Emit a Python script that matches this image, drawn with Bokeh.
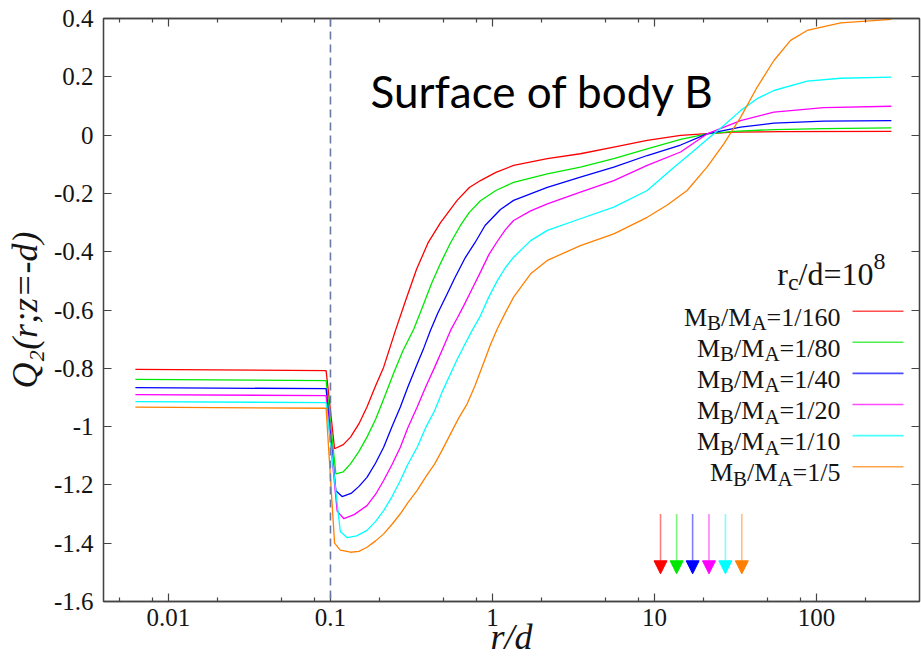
import math
from bokeh.plotting import figure
from bokeh.models import (Range1d, LogAxis, LinearAxis, FixedTicker, Span, Label,
                          Arrow, NormalHead, ColumnDataSource, CustomJSTickFormatter)
from bokeh.core.properties import value
from bokeh.embed import file_html
from bokeh.resources import INLINE

# ---------------- data ----------------
ratios = ["1/160", "1/80", "1/40", "1/20", "1/10", "1/5"]

x_160 = [0.00625, 0.094, 0.106, 0.12, 0.133, 0.15, 0.168, 0.19, 0.213, 0.252, 0.29, 0.34, 0.40, 0.478,
         0.605, 0.72, 0.843, 1.05, 1.35, 2.18, 3.49, 5.61, 9.02, 14.5, 21.1, 30.9, 60, 290]
y_160 = [-0.804, -0.808, -1.076, -1.062, -1.036, -0.99, -0.933, -0.86, -0.796, -0.670, -0.57, -0.46, -0.37, -0.30,
         -0.224, -0.18, -0.156, -0.128, -0.104, -0.081, -0.064, -0.041, -0.018, -0.001, 0.005, 0.010, 0.012, 0.0125]

x_80 = [0.00625, 0.094, 0.108, 0.12, 0.133, 0.15, 0.168, 0.19, 0.213, 0.246, 0.28, 0.327, 0.37, 0.42, 0.478,
        0.55, 0.634, 0.72, 0.843, 1.05, 1.35, 2.18, 3.49, 5.61, 9.02, 14.5, 21.1, 30.9, 54.6, 111, 290]
y_80 = [-0.838, -0.842, -1.162, -1.155, -1.128, -1.085, -1.036, -0.975, -0.905, -0.815, -0.74, -0.665, -0.59, -0.51, -0.44,
        -0.37, -0.31, -0.265, -0.225, -0.19, -0.162, -0.133, -0.110, -0.081, -0.047, -0.015, 0.004, 0.013, 0.019, 0.022, 0.025]

x_40 = [0.00625, 0.094, 0.108, 0.118, 0.135, 0.15, 0.168, 0.19, 0.213, 0.24, 0.27, 0.30, 0.343, 0.377, 0.414, 0.46,
        0.525, 0.585, 0.68, 0.778, 0.9, 1.12, 1.35, 2.18, 3.49, 5.61, 9.02, 14.5, 21.1, 34, 54.6, 111, 290]
y_40 = [-0.866, -0.870, -1.22, -1.240, -1.228, -1.205, -1.174, -1.125, -1.071, -1.0, -0.933, -0.865, -0.785, -0.73, -0.670, -0.61,
        -0.545, -0.49, -0.42, -0.37, -0.31, -0.255, -0.224, -0.179, -0.144, -0.110, -0.070, -0.034, 0.004, 0.027, 0.041, 0.048, 0.050]

x_20 = [0.00625, 0.094, 0.11, 0.121, 0.14, 0.168, 0.19, 0.213, 0.24, 0.27, 0.30, 0.343, 0.39, 0.44, 0.50, 0.551,
        0.61, 0.665, 0.73, 0.843, 0.95, 1.07, 1.2, 1.35, 1.72, 2.18, 3.49, 5.61, 9.02, 14.5, 21.1, 34, 54.6, 111, 290]
y_20 = [-0.890, -0.894, -1.29, -1.316, -1.302, -1.271, -1.232, -1.185, -1.13, -1.071, -1.005, -0.933, -0.86, -0.796, -0.725, -0.670,
        -0.625, -0.585, -0.54, -0.47, -0.41, -0.365, -0.325, -0.293, -0.26, -0.236, -0.196, -0.156, -0.104, -0.058, 0.004, 0.050, 0.079, 0.094, 0.099]

x_10 = [0.00625, 0.094, 0.115, 0.127, 0.145, 0.168, 0.19, 0.213, 0.24, 0.27, 0.30, 0.343, 0.39, 0.44, 0.49, 0.551,
        0.605, 0.665, 0.749, 0.843, 0.95, 1.07, 1.2, 1.35, 1.72, 2.18, 3.49, 5.61, 9.02, 13.2, 17, 21.1, 27, 34, 43,
        54.6, 87.6, 141, 290]
y_10 = [-0.914, -0.918, -1.36, -1.381, -1.375, -1.356, -1.325, -1.288, -1.24, -1.185, -1.13, -1.071, -1.0, -0.945, -0.88, -0.819,
        -0.77, -0.725, -0.670, -0.62, -0.555, -0.50, -0.455, -0.419, -0.362, -0.327, -0.287, -0.247, -0.19, -0.11, -0.06, -0.015, 0.035, 0.084, 0.125,
        0.153, 0.185, 0.195, 0.199]

x_5 = [0.00625, 0.094, 0.106, 0.115, 0.133, 0.15, 0.168, 0.19, 0.213, 0.24, 0.27, 0.30, 0.343, 0.39, 0.44, 0.49,
       0.551, 0.62, 0.698, 0.78, 0.884, 0.97, 1.07, 1.2, 1.35, 1.72, 2.18, 3.49, 5.61, 9.02, 12, 15.9, 21.1, 26.8,
       34, 43, 54.6, 69.2, 87.6, 141, 290]
y_5 = [-0.933, -0.937, -1.40, -1.424, -1.431, -1.428, -1.414, -1.392, -1.368, -1.335, -1.299, -1.262, -1.219, -1.17, -1.128, -1.08,
       -1.025, -0.97, -0.922, -0.86, -0.78, -0.72, -0.665, -0.61, -0.556, -0.476, -0.430, -0.379, -0.339, -0.282, -0.24, -0.190, -0.110, -0.030,
       0.061, 0.164, 0.256, 0.325, 0.359, 0.385, 0.397]

series_x = [x_160, x_80, x_40, x_20, x_10, x_5]
series_y = [y_160, y_80, y_40, y_20, y_10, y_5]

arrow_x = [10.9, 13.7, 17.2, 21.7, 27.4, 34.6]
arrow_y_start = -1.30
arrow_y_end = -1.505

boundary_x = 0.1

x_ticks = [0.01, 0.1, 1.0, 10.0, 100.0]
x_tick_labels = ["0.01", "0.1", "1", "10", "100"]
x_minor_ticks = [0.005, 0.008, 0.02, 0.05, 0.08, 0.2, 0.5, 0.8, 2.0, 5.0, 8.0, 20.0, 50.0, 80.0, 200.0]
y_ticks = [-1.6, -1.4, -1.2, -1.0, -0.8, -0.6, -0.4, -0.2, 0.0, 0.2, 0.4]
y_tick_labels = ["-1.6", "-1.4", "-1.2", "-1", "-0.8", "-0.6", "-0.4", "-0.2", "0", "0.2", "0.4"]

colors = ["#ff0000", "#00e800", "#0000ff", "#ff00ff", "#00ffff", "#ff8000"]

# ---------------- layout ----------------
W, H = 921, 659
FL, FR, FT, FB = 103, 919, 18, 601
LX0, LX1 = -2.401, 2.636
Y0, Y1 = -1.6, 0.4


def xd(px):
    return 10 ** (LX0 + (px - FL) / (FR - FL) * (LX1 - LX0))


def yd(py):
    return Y1 - (py - FT) / (FB - FT) * (Y1 - Y0)


p = figure(width=W, height=H, x_axis_type="log",
           x_range=Range1d(10 ** LX0, 10 ** LX1), y_range=Range1d(Y0, Y1),
           output_backend="svg", toolbar_location=None,
           min_border_left=FL, min_border_right=W - FR,
           min_border_top=FT, min_border_bottom=H - FB)
p.xgrid.visible = False
p.ygrid.visible = False
p.outline_line_color = "#444444"
p.outline_line_width = 1.3
p.background_fill_color = "white"
p.border_fill_color = "white"

AXC = "#444444"
SERIF = "Liberation Serif"

LOOKUP = """
let best = -1, bd = Infinity;
for (let i = 0; i < tv.length; i++) {
  const d = Math.abs(tv[i] - tick);
  if (d < bd) { bd = d; best = i; }
}
return (best >= 0 && bd <= 1e-6 * Math.max(1, Math.abs(tick))) ? tl[best] : "";
"""


def style_axis(ax, ticks, minor, labels, show):
    ax.ticker = FixedTicker(ticks=ticks, minor_ticks=minor)
    ax.major_tick_in = 8
    ax.major_tick_out = 0
    ax.minor_tick_in = 4
    ax.minor_tick_out = 0
    ax.axis_line_color = AXC
    ax.axis_line_width = 1.3
    ax.major_tick_line_color = AXC
    ax.major_tick_line_width = 1.2
    ax.minor_tick_line_color = AXC if minor else None
    ax.minor_tick_line_width = 1.2
    if show:
        ax.formatter = CustomJSTickFormatter(args=dict(tv=list(ticks), tl=list(labels)), code=LOOKUP)
        ax.major_label_text_font = SERIF
        ax.major_label_text_font_size = "25px"
        ax.major_label_text_color = "#141414"
        ax.axis_label_text_font = SERIF
        ax.axis_label_text_font_style = "italic"
        ax.axis_label_text_font_size = "36px"
        ax.axis_label_text_color = "#141414"
    else:
        ax.formatter = CustomJSTickFormatter(code="return '';")
        ax.major_label_text_font_size = "0px"
        ax.major_label_text_alpha = 0
        ax.major_label_standoff = 0


xax = p.below[0]
style_axis(xax, x_ticks, x_minor_ticks, x_tick_labels, True)
xax.major_label_standoff = 7
xax.axis_label = "r/d"
xax.axis_label_standoff = -12

yax = p.left[0]
style_axis(yax, y_ticks, [], y_tick_labels, True)
yax.major_label_standoff = 10
yax.axis_label = "Q\u2082(r;z=-d)"
yax.axis_label_standoff = 6

top = LogAxis()
style_axis(top, x_ticks, x_minor_ticks, x_tick_labels, False)
p.add_layout(top, "above")
right = LinearAxis()
style_axis(right, y_ticks, [], y_tick_labels, False)
p.add_layout(right, "right")

# boundary of body B
p.add_layout(Span(location=boundary_x, dimension="height", line_color="#6b7aa3",
                  line_dash="8 5", line_width=1.6))

# curves
for xs, ys, c in zip(series_x, series_y, colors):
    p.line(xs, ys, line_color=c, line_width=1.3)

# arrows
for ax_, c in zip(arrow_x, colors):
    p.add_layout(Arrow(end=NormalHead(size=13, fill_color=c, line_color=c, line_width=1),
                       x_start=ax_, y_start=arrow_y_start, x_end=ax_, y_end=arrow_y_end,
                       line_color=c, line_alpha=0.5, line_width=1.6))

# ---------------- texts ----------------
TW = {'M': 0.889, 'B': 0.667, 'A': 0.722, '/': 0.278, '=': 0.564, 'r': 0.333, 'c': 0.444, 'd': 0.5}


def tw(s, size):
    return sum(TW.get(ch, 0.5) for ch in s) * size


BIG, SMALL = 26, 21
big = dict(x=[], y=[], text=[])
small = dict(x=[], y=[], text=[])
ROW0, DROW = 310.7, 31.1
TEXT_RIGHT = 840
for i, lab in enumerate(ratios):
    line_py = ROW0 + i * DROW
    base = line_py + 6
    pieces = [("M", BIG, 0), ("B", SMALL, 6), ("/M", BIG, 0), ("A", SMALL, 6), ("=" + lab, BIG, 0)]
    total = sum(tw(t, s) for t, s, _ in pieces)
    cx = TEXT_RIGHT - total
    for t, s, dy in pieces:
        dst = big if s == BIG else small
        dst["x"].append(xd(cx))
        dst["y"].append(yd(base + dy))
        dst["text"].append(t)
        cx += tw(t, s)

for src, size in ((big, BIG), (small, SMALL)):
    p.text(x="x", y="y", text="text", source=ColumnDataSource(src),
           text_font=value(SERIF), text_font_size=f"{size}px", text_color="#141414",
           text_align="left", text_baseline="alphabetic")

# legend line samples
ly = [yd(ROW0 + i * DROW) for i in range(len(ratios))]
p.segment(x0=[xd(852)] * len(ratios), y0=ly, x1=[xd(903)] * len(ratios), y1=ly,
          line_color=colors, line_width=1.6, line_alpha=0.7)

# key title r_c/d = 10^8 (composed with sub/superscript)
KB, KS = 32, 24
kt_base = 273
kt_pieces = [("r", KB, 0), ("c", KS, 8), ("/d=10", KB, 0), ("8", KS, -12)]
kt_total = sum(tw(t, s) for t, s, _ in kt_pieces)
kx = 885 - kt_total
kt_big = dict(x=[], y=[], text=[])
kt_small = dict(x=[], y=[], text=[])
for t, s, dy in kt_pieces:
    dst = kt_big if s == KB else kt_small
    dst["x"].append(xd(kx))
    dst["y"].append(yd(kt_base + dy))
    dst["text"].append(t)
    kx += tw(t, s)
p.text(x="x", y="y", text="text", source=ColumnDataSource(kt_big),
       text_font=value(SERIF), text_font_size=f"{KB}px", text_color="#141414",
       text_align="left", text_baseline="alphabetic")
p.text(x="x", y="y", text="text", source=ColumnDataSource(kt_small),
       text_font=value(SERIF), text_font_size=f"{KS}px", text_color="#141414",
       text_align="left", text_baseline="alphabetic")

# headline
p.add_layout(Label(x=xd(370), y=yd(90), text="Surface of body B", text_font="Lato",
                   text_font_size="44px", text_color="black", text_baseline="alphabetic",
                   text_align="left"))

open("out.html", "w").write(file_html(p, INLINE))
